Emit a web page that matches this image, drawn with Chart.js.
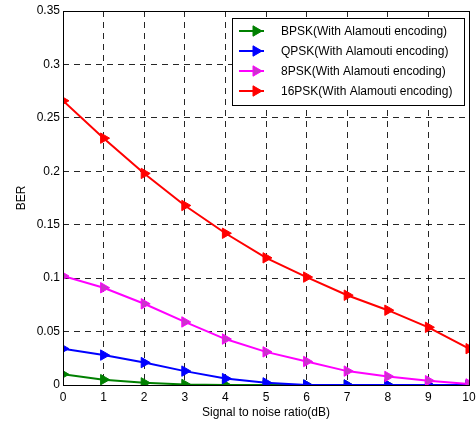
<!DOCTYPE html>
<html>
<head>
<meta charset="utf-8">
<script src="https://cdn.jsdelivr.net/npm/chart.js@4/dist/chart.umd.min.js"></script>
<style>
  html, body { margin: 0; padding: 0; background: #fff; }
  #wrap { width: 476px; height: 426px; }
</style>
</head>
<body>
<div id="wrap"><canvas id="ber"></canvas></div>
<script>
// BER vs SNR, Alamouti STBC
const snr = [0, 1, 2, 3, 4, 5, 6, 7, 8, 9, 10];
const bpsk = [0.010, 0.005, 0.002, 0.0005, 0, 0, 0, 0, 0, 0, 0];
const qpsk = [0.034, 0.028, 0.021, 0.013, 0.006, 0.002, 0, 0, 0, 0, 0];
const psk8 = [0.102, 0.091, 0.076, 0.059, 0.043, 0.031, 0.022, 0.013, 0.008, 0.004, 0.001];
const psk16 = [0.266, 0.231, 0.198, 0.168, 0.142, 0.119, 0.101, 0.084, 0.070, 0.054, 0.034];
const labels = [
  "BPSK(With Alamouti encoding)",
  "QPSK(With Alamouti encoding)",
  "8PSK(With Alamouti encoding)",
  "16PSK(With Alamouti encoding)",
];
const colors = ["#008000", "#0000ff", "#ff00ff", "#ff0000"];
const markerFill = ["#008000", "#0000ff", "#cc33cc", "#ff0000"];

const FONT = "'Liberation Sans', Arial, sans-serif";

function series(vals, i) {
  return {
    label: labels[i],
    data: snr.map((x, k) => ({ x, y: vals[k] })),
    borderColor: colors[i],
    backgroundColor: markerFill[i],
    pointBackgroundColor: markerFill[i],
    pointBorderColor: colors[i],
    borderWidth: 2,
    pointStyle: "triangle",
    pointRotation: 90,
    pointRadius: 6,
    pointBorderWidth: 1,
    tension: 0,
    order: 4 - i,
  };
}

// box round the plot + legend in the upper right
const frame = {
  id: "frame",
  afterDatasetsDraw(chart) {
    const { ctx, chartArea: a } = chart;
    ctx.save();
    ctx.strokeStyle = "#000";
    ctx.lineWidth = 1;
    ctx.setLineDash([]);
    ctx.strokeRect(Math.round(a.left) + 0.5, Math.round(a.top) + 0.5, Math.round(a.right - a.left), Math.round(a.bottom - a.top));

    const bx = 232, by = 18, bw = 232, bh = 87;
    ctx.fillStyle = "#fff";
    ctx.fillRect(bx, by, bw, bh);
    ctx.strokeRect(bx + 0.5, by + 0.5, bw, bh);
    ctx.font = "12px " + FONT;
    ctx.textBaseline = "middle";
    labels.forEach((lab, i) => {
      const y = 31 + i * 20;
      ctx.strokeStyle = colors[i];
      ctx.lineWidth = 2;
      ctx.beginPath();
      ctx.moveTo(239, y);
      ctx.lineTo(264, y);
      ctx.stroke();
      ctx.fillStyle = markerFill[i];
      ctx.strokeStyle = colors[i];
      ctx.lineWidth = 1;
      Chart.helpers.drawPoint(ctx, { pointStyle: "triangle", rotation: 90, radius: 6, borderWidth: 1 }, 256, y);
      ctx.fillStyle = "#000";
      ctx.fillText(lab, 281, y + 1);
    });
    ctx.restore();
  },
};

const gridOpts = {
  color: "rgba(0,0,0,0.85)",
  lineWidth: 1,
  drawTicks: false,
};

new Chart(document.getElementById("ber"), {
  type: "line",
  data: {
    datasets: [series(bpsk, 0), series(qpsk, 1), series(psk8, 2), series(psk16, 3)],
  },
  options: {
    responsive: true,
    maintainAspectRatio: false,
    animation: false,
    layout: { padding: { left: 0, right: 3, top: 11, bottom: 0 } },
    plugins: { legend: { display: false }, tooltip: { enabled: false } },
    scales: {
      x: {
        type: "linear",
        min: 0,
        max: 10,
        border: { display: false, dash: [6, 5] },
        grid: gridOpts,
        ticks: {
          stepSize: 1,
          padding: 5,
          maxRotation: 0,
          color: "#000",
          font: { family: FONT, size: 12 },
        },
        title: {
          display: true,
          text: "Signal to noise ratio(dB)",
          color: "#000",
          font: { family: FONT, size: 12 },
          padding: { top: 0, bottom: 6 },
        },
        afterFit(s) {
          s.height = 41;
          s.paddingLeft = 0;
          s.paddingRight = 0;
        },
      },
      y: {
        min: 0,
        max: 0.35,
        border: { display: false, dash: [6, 5] },
        grid: gridOpts,
        ticks: {
          stepSize: 0.05,
          padding: 3,
          color: "#000",
          font: { family: FONT, size: 12 },
          callback: (v) => String(+v.toFixed(2)),
        },
        title: {
          display: true,
          text: "BER",
          color: "#000",
          font: { family: FONT, size: 12 },
          padding: { top: 14, bottom: 0 },
        },
        afterFit(s) {
          s.width = 63;
          s.paddingTop = 0;
          s.paddingBottom = 0;
        },
      },
    },
  },
  plugins: [frame],
});
</script>
</body>
</html>
